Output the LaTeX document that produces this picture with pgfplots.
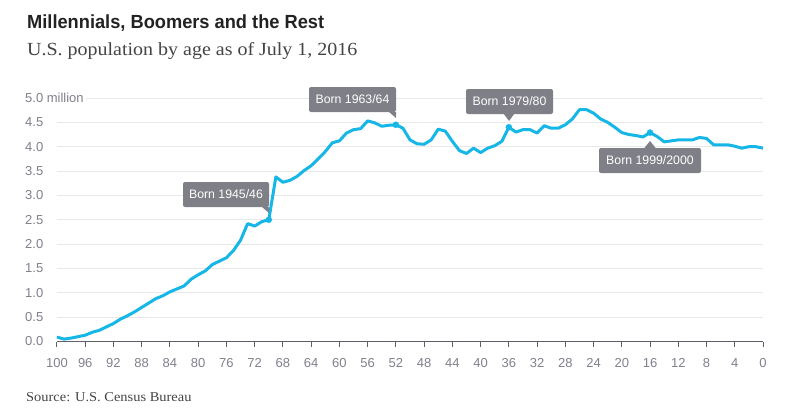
\documentclass[border=0pt]{standalone}
\usepackage{pgfplots}
\pgfplotsset{compat=1.18}
\usepackage{fontspec}
\setmainfont{Liberation Sans}
\newfontfamily\seriffont{Liberation Serif}

\definecolor{linecyan}{RGB}{22,182,230}
\definecolor{gridgray}{RGB}{232,232,234}
\definecolor{axisgray}{RGB}{95,95,105}
\definecolor{labgray}{RGB}{128,128,140}
\definecolor{boxgray}{RGB}{127,127,135}
\definecolor{titlec}{RGB}{34,34,34}
\definecolor{subc}{RGB}{68,68,68}

\begin{document}
\begin{tikzpicture}[x=1bp,y=1bp]
\path[use as bounding box] (0,0) rectangle (785,416);

% title block
\node[anchor=base west,inner sep=0,text=titlec] at (27,387.7)
  {\fontsize{19bp}{20bp}\selectfont\bfseries\scalebox{0.96}[1]{Millennials, Boomers and the Rest}};
\node[anchor=base west,inner sep=0,text=subc] at (27,361)
  {\fontsize{18.5bp}{20bp}\selectfont\seriffont\scalebox{1.08}[1]{U.S. population by age as of July 1, 2016}};

\begin{axis}[
  at={(57bp,74.5bp)}, anchor=south west,
  scale only axis, width=706bp, height=243.5bp,
  xmin=0, xmax=100, x dir=reverse,
  ymin=0, ymax=5,
  axis lines*=left,
  y axis line style={draw=none},
  x axis line style={draw=axisgray,line width=1.2bp},
  xtick={0,4,...,100},
  ytick={0,0.5,...,5},
  yticklabels={0.0,0.5,1.0,1.5,2.0,2.5,3.0,3.5,4.0,4.5,{5.0 million\hspace{7bp}}},
  tick align=outside,
  major tick length=5bp,
  xtick style={draw=axisgray,line width=1bp},
  ytick style={draw=none},
  ymajorgrids,
  grid style={draw=gridgray,line width=1bp},
  /pgf/number format/assume math mode=true,
  xticklabel style={font=\fontsize{13bp}{13bp}\selectfont,text=labgray,
    text height=9.4bp,text depth=0pt,yshift=-8bp},
  yticklabel style={font=\fontsize{13bp}{13bp}\selectfont,text=labgray,anchor=west,
    inner sep=2bp,fill=white,xshift=-29bp},
  clip=false,
]
\addplot[linecyan,line width=3bp,line join=round] coordinates {
(100,0.09) (99,0.05) (98,0.07) (97,0.10) (96,0.13) (95,0.19) (94,0.23) (93,0.30)
(92,0.37) (91,0.46) (90,0.53) (89,0.61) (88,0.70) (87,0.79) (86,0.88) (85,0.94)
(84,1.02) (83,1.08) (82,1.14) (81,1.28) (80,1.37) (79,1.45) (78,1.58) (77,1.65)
(76,1.72) (75,1.87) (74,2.08) (73,2.42) (72,2.37) (71,2.46) (70,2.50) (69,3.38)
(68,3.27) (67,3.31) (66,3.39) (65,3.51) (64,3.61) (63,3.75) (62,3.90) (61,4.08)
(60,4.12) (59,4.28) (58,4.35) (57,4.37) (56,4.53) (55,4.49) (54,4.42) (53,4.44)
(52,4.45) (51,4.38) (50,4.14) (49,4.06) (48,4.05) (47,4.14) (46,4.36) (45,4.32)
(44,4.11) (43,3.92) (42,3.86) (41,3.97) (40,3.88) (39,3.97) (38,4.02) (37,4.11)
(36,4.40) (35,4.30) (34,4.35) (33,4.35) (32,4.28) (31,4.43) (30,4.38) (29,4.38)
(28,4.45) (27,4.57) (26,4.76) (25,4.76) (24,4.69) (23,4.57) (22,4.50) (21,4.40)
(20,4.29) (19,4.25) (18,4.23) (17,4.20) (16,4.29) (15,4.21) (14,4.10) (13,4.12)
(12,4.14) (11,4.14) (10,4.14) (9,4.19) (8,4.17) (7,4.04) (6,4.04) (5,4.04)
(4,4.01) (3,3.97) (2,4.00) (1,4.00) (0,3.97)
};
\addplot[only marks,mark=*,mark size=3bp,color=linecyan] coordinates {
(70,2.50) (52,4.45) (36,4.40) (16,4.29)
};
\end{axis}

% callouts
\tikzset{callout/.style={fill=boxgray,text=white,rounded corners=2bp,inner xsep=0,inner ysep=0,
  minimum height=25bp,font=\fontsize{12.3bp}{12bp}\selectfont}}
\node[callout,minimum width=86bp] at (226,221.5) {Born 1945/46};
\fill[boxgray] (262,209) -- (269,209) -- (269,203) -- cycle;
\node[callout,minimum width=87bp] at (352.5,316.5) {Born 1963/64};
\fill[boxgray] (389,304) -- (396,304) -- (396,298) -- cycle;
\node[callout,minimum width=87bp] at (509.5,314.5) {Born 1979/80};
\fill[boxgray] (503.5,302.5) -- (514.5,302.5) -- (509,295) -- cycle;
\node[callout,minimum width=102bp] at (650,255.5) {Born 1999/2000};
\fill[boxgray] (644,267.5) -- (656,267.5) -- (650,275) -- cycle;

% source
\node[anchor=base west,inner sep=0,text=subc] at (26,15)
  {\fontsize{13.5bp}{14bp}\selectfont\seriffont\scalebox{1.07}[1]{Source: U.S. Census Bureau}};
\end{tikzpicture}
\end{document}
